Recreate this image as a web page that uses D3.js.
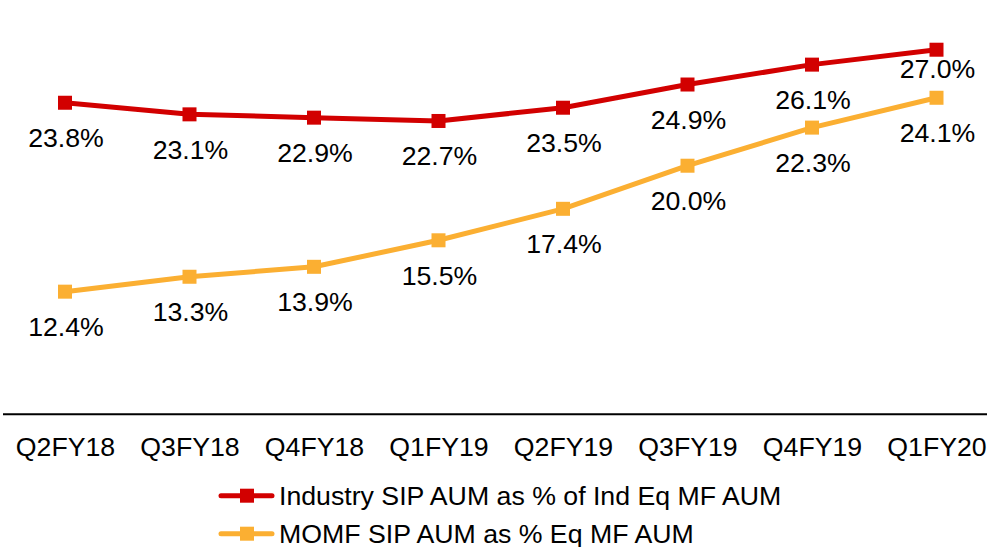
<!DOCTYPE html>
<html><head><meta charset="utf-8">
<script src="https://cdn.jsdelivr.net/npm/d3@7"></script>
<style>body{margin:0;background:#fff}svg{display:block}text{font-family:"Liberation Sans",Arial,sans-serif;fill:#000}</style>
</head><body><svg id="c" width="987" height="547"></svg>
<script>
const categories = ["Q2FY18","Q3FY18","Q4FY18","Q1FY19","Q2FY19","Q3FY19","Q4FY19","Q1FY20"];
const industryValues = [23.8,23.1,22.9,22.7,23.5,24.9,26.1,27.0];
const momfValues = [12.4,13.3,13.9,15.5,17.4,20.0,22.3,24.1];
const seriesNames = ["Industry SIP AUM as % of Ind Eq MF AUM","MOMF SIP AUM as % Eq MF AUM"];
const colors = ["#D20000","#FBAF32"];

const FS = "26.7px";
const svg = d3.select("#c");
const x = d3.scalePoint().domain(categories).range([2.75, 998.75]).padding(0.5);
const y = d3.scaleLinear().domain([5, 30]).range([414.3, 0]);

const series = [
  {name: seriesNames[0], values: industryValues, color: colors[0]},
  {name: seriesNames[1], values: momfValues, color: colors[1]}
];

// axis
const axis = d3.axisBottom(x).tickSize(0).tickPadding(0);
const ag = svg.append("g").attr("transform", `translate(0,${y(5)})`).call(axis);
ag.select(".domain").attr("stroke", "#000").attr("stroke-width", 2).attr("d", "M3,0H987");
ag.selectAll("text").attr("font-size", FS).attr("dy", null).attr("y", 42)
  .attr("font-family", "Liberation Sans, Arial, sans-serif").attr("fill", "#000");

const line = d3.line().x((d, i) => x(categories[i])).y(d => y(d));

series.slice().reverse().forEach(s => {
  svg.append("path").attr("d", line(s.values)).attr("fill", "none")
    .attr("stroke", s.color).attr("stroke-width", 5).attr("stroke-linejoin", "round");
  svg.selectAll(null).data(s.values).enter().append("rect")
    .attr("x", (d, i) => x(categories[i]) - 7).attr("y", d => y(d) - 7)
    .attr("width", 14).attr("height", 14).attr("fill", s.color);
});

series.forEach((s, si) => {
  svg.selectAll(null).data(s.values).enter().append("text")
    .attr("x", (d, i) => x(categories[i]) + 1)
    .attr("y", (d, i) => y(d) + ((si === 0 && i === s.values.length - 1) ? 28 : 44.5))
    .attr("text-anchor", "middle").attr("font-size", FS)
    .text(d => d.toFixed(1) + "%");
});

// legend
const lg = svg.append("g");
series.forEach((s, i) => {
  const cy = 495.7 + i * 38;
  lg.append("line").attr("x1", 221).attr("x2", 272).attr("y1", cy).attr("y2", cy)
    .attr("stroke", s.color).attr("stroke-width", 5).attr("stroke-linecap", "round");
  lg.append("rect").attr("x", 240).attr("y", cy - 7).attr("width", 14).attr("height", 14).attr("fill", s.color);
  lg.append("text").attr("x", 279).attr("y", cy + 9.5).attr("font-size", FS).text(s.name);
});
</script></body></html>
